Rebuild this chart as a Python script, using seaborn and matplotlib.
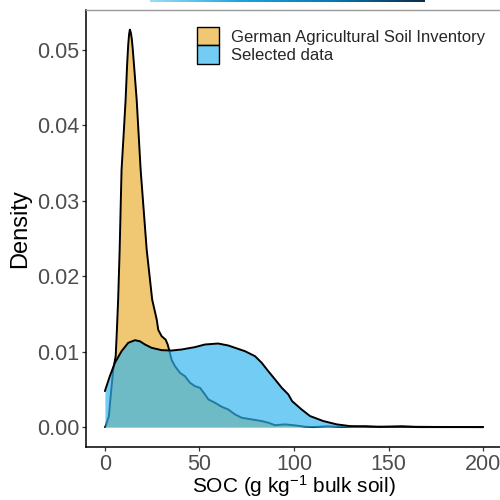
import numpy as np
import pandas as pd
import matplotlib
matplotlib.use("Agg")
import matplotlib.pyplot as plt
import seaborn as sns
from matplotlib.patches import Patch
from matplotlib.colors import LinearSegmentedColormap

# ---- data (density curves) ----
series_labels = ["German Agricultural Soil Inventory", "Selected data"]

gasi_soc = [0.0, 0.37, 2.1, 3.2, 4.4, 5.7, 6.35, 7.0, 7.8, 8.8, 10.0, 10.95, 11.7,
            12.3, 12.8, 13.2, 13.7, 14.2, 14.7, 15.7, 16.8, 18.9, 22.1, 25.0, 27.4,
            28.2, 30.0, 32.1, 33.2, 33.9, 35.3, 37.0, 39.7, 42.3, 45.0, 47.6, 50.3,
            52.9, 54.7, 58.2, 61.7, 65.2, 68.8, 72.3, 77.6, 82.9, 86.4, 90.0, 95.2,
            100.5, 105.8, 110.0, 118.0, 125.0, 138.0, 145.0, 157.0, 165.0, 200.0]
gasi_density = [0.0, 0.00013, 0.00146, 0.00455, 0.00764, 0.0094, 0.01293, 0.0169,
                0.02352, 0.0341, 0.0392, 0.0434, 0.0478, 0.0506, 0.0521, 0.0527,
                0.0523, 0.0515, 0.0502, 0.0470, 0.0434, 0.0341, 0.0235, 0.0169,
                0.01426, 0.0129, 0.01205, 0.0116, 0.01095, 0.0103, 0.0089, 0.0081,
                0.0072, 0.00675, 0.00588, 0.00543, 0.0052, 0.00433, 0.00367,
                0.00323, 0.0027, 0.00234, 0.00168, 0.00124, 0.00102, 0.0008,
                0.00058, 0.00025, 0.00036, 0.00023, 0.00005, 0.0, 0.0001, 0.0,
                0.0001, 0.0, 0.0001, 0.0, 0.0]

sel_soc = [0.0, 2.6, 5.3, 8.8, 12.3, 15.9, 18.5, 21.2, 24.7, 30.0, 35.3, 40.6, 47.6,
           52.9, 59.9, 65.2, 74.1, 79.4, 82.9, 86.4, 90.0, 93.5, 97.0, 99.0, 104.0,
           108.5, 115.5, 122.6, 129.6, 140.0, 156.0, 175.0, 200.0]
sel_density = [0.00477, 0.00675, 0.00853, 0.01006, 0.01117, 0.01152, 0.01138,
               0.01095, 0.01051, 0.0102, 0.01015, 0.01029, 0.0106, 0.01095,
               0.01108, 0.01082, 0.01006, 0.0094, 0.00853, 0.00741, 0.00631,
               0.00522, 0.00433, 0.00344, 0.00234, 0.00146, 0.0008, 0.00036,
               0.00013, 0.00006, 0.00005, 0.00002, 0.0]

x_ticks = [0, 50, 100, 150, 200]
y_ticks = [0.00, 0.01, 0.02, 0.03, 0.04, 0.05]

# ---- styling ----
sns.set_style("white")
plt.rcParams["font.family"] = ["Liberation Sans", "DejaVu Sans"]
plt.rcParams["mathtext.fontset"] = "custom"
plt.rcParams["mathtext.rm"] = "Liberation Sans"
plt.rcParams["mathtext.it"] = "Liberation Sans:italic"
plt.rcParams["mathtext.bf"] = "Liberation Sans:bold"

orange = "#F0C873"
blue_rgb = (49 / 255, 181 / 255, 239 / 255)
blue_alpha = 0.68

df_g = pd.DataFrame({"SOC": gasi_soc, "Density": gasi_density, "group": series_labels[0]})
df_s = pd.DataFrame({"SOC": sel_soc, "Density": sel_density, "group": series_labels[1]})

fig = plt.figure(figsize=(5, 5), dpi=100)
ax = fig.add_axes([0.172, 0.106, 0.832, 0.874])

ax.fill_between(df_g["SOC"], df_g["Density"], color=orange, lw=0, zorder=1)
sns.lineplot(data=df_g, x="SOC", y="Density", color="black", lw=1.4,
             estimator=None, ax=ax, zorder=2)
ax.fill_between(df_s["SOC"], df_s["Density"], color=blue_rgb, alpha=blue_alpha,
                lw=0, zorder=3)
sns.lineplot(data=df_s, x="SOC", y="Density", color="black", lw=1.4,
             estimator=None, ax=ax, zorder=4)

ax.set_xlim(-10, 210)
ax.set_ylim(-0.00264, 0.0553)
ax.set_xticks(x_ticks)
ax.set_xticklabels([str(t) for t in x_ticks])
ax.set_yticks(y_ticks)
ax.set_yticklabels([f"{t:.2f}" for t in y_ticks])

ax.tick_params(axis="both", which="major", length=3, width=0.9, color="#333333",
               labelcolor="#4D4D4D", labelsize=15.5, pad=2,
               bottom=True, left=True)

for side in ["left", "bottom"]:
    ax.spines[side].set_color("black")
    ax.spines[side].set_linewidth(1.1)
ax.spines["top"].set_color("#9a9a9a")
ax.spines["top"].set_linewidth(1.0)
ax.spines["right"].set_visible(False)

ax.set_xlabel(r"SOC (g kg$^{-1}$ bulk soil)", fontsize=15, color="black", labelpad=-1)
ax.set_ylabel("Density", fontsize=17, color="black", labelpad=4)

handles = [Patch(facecolor=orange, edgecolor="black", lw=1.0),
           Patch(facecolor=(*blue_rgb, blue_alpha), edgecolor="black", lw=1.0)]
ax.legend(handles, series_labels, loc="upper left",
          bbox_to_anchor=(196.7 / 500, 1 - 26.7 / 500), bbox_transform=fig.transFigure,
          frameon=False, fontsize=12, handlelength=1.35, handleheight=1.35,
          handletextpad=0.7, labelspacing=0.0, borderpad=0, borderaxespad=0)

# thin gradient strip at the very top of the image
gax = fig.add_axes([150 / 500, 1 - 2 / 500, 274 / 500, 2 / 500])
cmap = LinearSegmentedColormap.from_list("strip", ["#9BDDF6", "#1BA3DC", "#0878B0", "#0B2C4C"])
gax.imshow(np.linspace(0, 1, 256)[None, :], aspect="auto", cmap=cmap)
gax.axis("off")

fig.savefig("out.png", dpi=100)
